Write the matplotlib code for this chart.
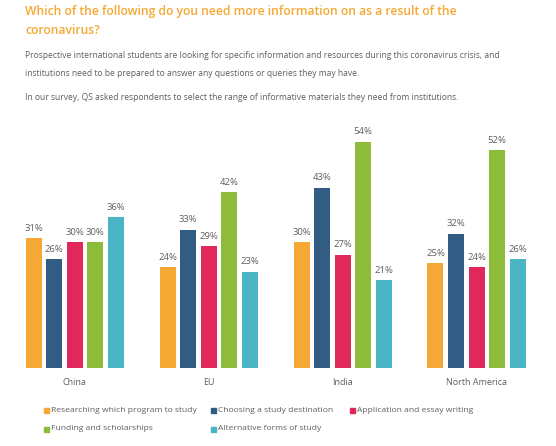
import matplotlib
matplotlib.use("Agg")
import matplotlib.pyplot as plt
import numpy as np

plt.rcParams["font.family"] = ["Open Sans", "DejaVu Sans"]

regions = ["China", "EU", "India", "North America"]
series = [
    "Researching which program to study",
    "Choosing a study destination",
    "Application and essay writing",
    "Funding and scholarships",
    "Alternative forms of study",
]
values = [
    [31, 24, 30, 25],
    [26, 33, 43, 32],
    [30, 29, 27, 24],
    [30, 42, 54, 52],
    [36, 23, 21, 26],
]
colors = ["#F5A833", "#335C85", "#E0295A", "#8DBB3A", "#4AB5C4"]
TXT = "#5f5f5f"

W, H = 556, 446
fig = plt.figure(figsize=(W / 100, H / 100), dpi=100)


def fx(px):
    return px / W


def fy(py):
    return 1 - py / H


# axes placed in pixel space: baseline at y=368, 60% at ~117
left, right, base, top = 10, 545, 368, 368 - 60 * 4.19
ax = fig.add_axes([fx(left), fy(base), fx(right - left), (base - top) / H])
c0, gap = 74.5, 134.0
ax.set_xlim((left - c0) / gap, (right - c0) / gap)
ax.set_ylim(0, 60)
ax.axis("off")

x = np.arange(len(regions))
step, width = 20.5 / gap, 16 / gap
for i, (name, vals, col) in enumerate(zip(series, values, colors)):
    pos = x + (i - 2) * step
    ax.bar(pos, vals, width=width, color=col)
    for p, v in zip(pos, vals):
        ax.text(p, v + 1.3, f"{v}%", ha="center", va="bottom",
                fontsize=6.8, color=TXT)
for xi, r in zip(x, regions):
    ax.text(xi, -2.5, r, ha="center", va="top", fontsize=6.5, color=TXT)

# heading and intro text
head = dict(fontsize=8.7, fontweight="semibold", color="#F5A833", va="center")
fig.text(fx(25), fy(12), "Which of the following do you need more information on as a result of the", **head)
fig.text(fx(25), fy(30), "coronavirus?", **head)
body = dict(fontsize=6.15, color=TXT, va="center")
fig.text(fx(25), fy(55), "Prospective international students are looking for specific information and resources during this coronavirus crisis, and", **body)
fig.text(fx(25), fy(73), "institutions need to be prepared to answer any questions or queries they may have.", **body)
fig.text(fx(25), fy(98), "In our survey, QS asked respondents to select the range of informative materials they need from institutions.", **body)

# legend
leg_pos = [(44, 410), (211, 410), (350, 410), (44, 429), (211, 429)]
for (lx, ly), name, col in zip(leg_pos, series, colors):
    fig.patches.append(plt.Rectangle((fx(lx), fy(ly + 2.5)), fx(5), 5 / H,
                                     transform=fig.transFigure, color=col))
    fig.text(fx(lx + 7), fy(ly), name, fontsize=6.1, color=TXT, va="center")

fig.savefig("out.png", dpi=100, facecolor="white")
